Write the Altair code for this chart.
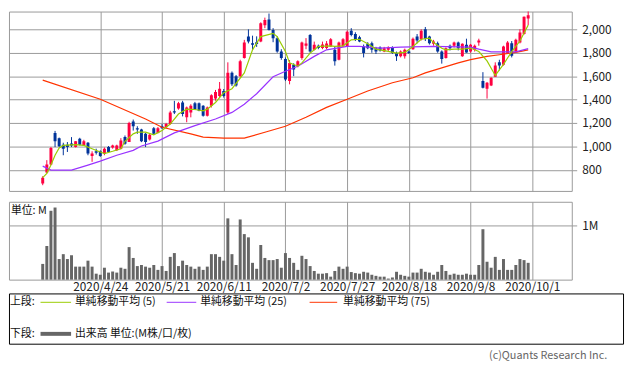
import altair as alt
import pandas as pd

# ---------------- data ----------------
date_labels = ["2020/4/24", "2020/5/21", "2020/6/11", "2020/7/2",
               "2020/7/27", "2020/8/18", "2020/9/8", "2020/10/1"]
date_pos = [14, 29, 44, 59, 74, 89, 104, 119]   # trading-day index of each label
price_ticks = [800, 1000, 1200, 1400, 1600, 1800, 2000]

opens = [682, 777, 845, 1115, 1070, 1014, 1014, 1025, 994, 1065,
         1008, 1031, 918, 958, 958, 938, 994, 990, 966, 980,
         1079, 1037, 1212, 1155, 1144, 1107, 1059, 1155, 1115, 1172,
         1163, 1191, 1300, 1324, 1375, 1248, 1290, 1369, 1369, 1346,
         1262, 1346, 1408, 1431, 1473, 1290, 1628, 1600, 1600, 1755,
         1938, 1882, 1890, 1896, 2036, 2084, 1994, 1924, 1811, 1746,
         1558, 1698, 1685, 1755, 1860, 1952, 1825, 1859, 1840, 1840,
         1854, 1825, 1741, 1854, 1854, 1989, 1961, 1932, 1854, 1876,
         1882, 1839, 1845, 1811, 1825, 1848, 1797, 1769, 1769, 1811,
         1830, 1938, 1915, 2000, 1938, 1876, 1882, 1811, 1755, 1859,
         1859, 1887, 1769, 1868, 1811, 1825, 1887, 1558, 1493, 1521,
         1594, 1718, 1698, 1797, 1882, 1811, 1887, 1961, 2093]
highs = [745, 882, 995, 1132, 1075, 1031, 1037, 1079, 1045, 1073,
         1056, 1037, 958, 980, 966, 990, 1003, 1014, 1014, 1070,
         1093, 1210, 1229, 1172, 1150, 1115, 1105, 1165, 1165, 1190,
         1200, 1304, 1389, 1380, 1389, 1340, 1360, 1380, 1375, 1352,
         1340, 1445, 1482, 1550, 1490, 1718, 1640, 1610, 1740, 1910,
         2000, 1946, 1940, 2060, 2100, 2135, 2010, 1940, 1830, 1760,
         1738, 1710, 1735, 1895, 1925, 1960, 1895, 1870, 1895, 1900,
         1925, 1854, 1895, 1925, 1990, 2010, 1975, 1945, 1870, 1890,
         1895, 1850, 1855, 1850, 1855, 1855, 1810, 1820, 1835, 1820,
         1930, 1960, 2000, 2020, 1945, 1910, 1895, 1820, 1845, 1870,
         1895, 1895, 1880, 1920, 1875, 1870, 1920, 1634, 1550, 1590,
         1718, 1740, 1860, 1900, 1900, 1920, 2000, 2110, 2169]
lows = [668, 769, 840, 994, 995, 924, 952, 994, 990, 1008,
        1003, 924, 868, 930, 910, 924, 946, 980, 960, 975,
        1014, 1037, 1135, 1107, 1036, 994, 1050, 1100, 1110, 1150,
        1155, 1186, 1276, 1313, 1256, 1206, 1248, 1310, 1300, 1254,
        1255, 1332, 1390, 1417, 1417, 1276, 1516, 1510, 1590, 1750,
        1880, 1825, 1850, 1890, 2010, 1990, 1890, 1800, 1740, 1558,
        1530, 1600, 1675, 1740, 1830, 1800, 1820, 1830, 1830, 1830,
        1850, 1690, 1735, 1850, 1850, 1940, 1900, 1890, 1760, 1830,
        1800, 1790, 1810, 1805, 1815, 1790, 1730, 1760, 1750, 1790,
        1825, 1880, 1905, 1900, 1870, 1860, 1800, 1707, 1750, 1820,
        1845, 1820, 1765, 1800, 1800, 1810, 1860, 1495, 1408, 1515,
        1594, 1650, 1690, 1790, 1760, 1805, 1880, 1955, 2036]
closes = [732, 845, 986, 1043, 1000, 980, 994, 1008, 1043, 1014,
          1043, 938, 938, 946, 918, 980, 952, 1008, 1008, 1051,
          1022, 1200, 1172, 1144, 1043, 1037, 1099, 1107, 1155, 1155,
          1191, 1290, 1290, 1369, 1276, 1332, 1346, 1318, 1304, 1262,
          1332, 1437, 1465, 1493, 1431, 1628, 1530, 1521, 1727, 1887,
          1896, 1868, 1875, 2051, 2080, 1994, 1924, 1811, 1755, 1572,
          1713, 1656, 1727, 1887, 1880, 1811, 1868, 1840, 1870, 1880,
          1915, 1727, 1887, 1915, 1980, 1952, 1910, 1896, 1797, 1839,
          1825, 1811, 1820, 1839, 1845, 1797, 1769, 1811, 1825, 1797,
          1920, 1904, 1989, 1920, 1882, 1896, 1811, 1746, 1839, 1839,
          1887, 1839, 1876, 1803, 1868, 1859, 1904, 1501, 1544, 1586,
          1690, 1690, 1854, 1887, 1775, 1910, 1972, 2107, 2121]
volume_m = [0.29, 0.62, 1.27, 1.33, 0.38, 0.47, 0.38, 0.45, 0.24, 0.24,
            0.24, 0.35, 0.24, 0.11, 0.09, 0.22, 0.13, 0.15, 0.13, 0.22,
            0.20, 0.60, 0.40, 0.25, 0.27, 0.24, 0.22, 0.27, 0.18, 0.25,
            0.16, 0.42, 0.49, 0.25, 0.35, 0.27, 0.24, 0.20, 0.24, 0.18,
            0.24, 0.47, 0.47, 0.42, 0.35, 1.13, 0.47, 0.27, 1.11, 0.84,
            0.78, 0.31, 0.20, 0.64, 0.40, 0.36, 0.36, 0.38, 0.22, 0.49,
            0.40, 0.31, 0.18, 0.44, 0.38, 0.25, 0.16, 0.11, 0.11, 0.12,
            0.055, 0.16, 0.24, 0.20, 0.24, 0.14, 0.12, 0.11, 0.145, 0.13,
            0.09, 0.07, 0.055, 0.055, 0.02, 0.04, 0.145, 0.09, 0.07, 0.055,
            0.13, 0.13, 0.20, 0.145, 0.13, 0.09, 0.145, 0.27, 0.16, 0.09,
            0.11, 0.09, 0.09, 0.11, 0.09, 0.09, 0.27, 0.93, 0.33, 0.22,
            0.42, 0.18, 0.38, 0.18, 0.18, 0.27, 0.38, 0.36, 0.31]

ma5_i = [0, 1, 2, 3, 4, 5, 8, 10, 12, 14, 15, 17, 19, 20, 22, 23, 25, 27, 29, 31,
         33, 35, 37, 39, 40, 42, 44, 46, 49, 51, 53, 56, 57, 59, 60, 62, 63, 65, 67, 70,
         71, 73, 75, 77, 79, 81, 84, 86, 88, 90, 92, 94, 95, 97, 98, 100, 102, 104, 106, 108,
         110, 112, 114, 116, 118]
ma5_v = [732, 769, 840, 924, 986, 1008, 1014, 1008, 980, 952, 938, 958, 980, 1043, 1107, 1121, 1121, 1098, 1135, 1191,
         1276, 1318, 1315, 1304, 1318, 1375, 1459, 1493, 1628, 1825, 1938, 1966, 1938, 1811, 1713, 1685, 1713, 1797, 1854, 1859,
         1854, 1859, 1910, 1915, 1876, 1831, 1811, 1797, 1803, 1854, 1915, 1924, 1887, 1839, 1825, 1831, 1831, 1840, 1810, 1730,
         1606, 1700, 1810, 1900, 2036]
ma25_i = [0, 2, 7, 11, 14, 18, 22, 24, 28, 32, 37, 42, 46, 49, 52, 56, 59, 62, 66, 69,
          74, 77, 82, 87, 95, 104, 106, 109, 115, 118]
ma25_v = [831, 797, 797, 840, 874, 924, 966, 1003, 1045, 1115, 1177, 1234, 1290, 1360, 1450, 1595, 1642, 1685, 1769, 1825,
          1854, 1854, 1839, 1848, 1854, 1848, 1831, 1808, 1808, 1835]
ma75_i = [0, 14, 25, 29, 36, 39, 44, 49, 54, 59, 64, 69, 74, 79, 85, 90, 93, 101, 104, 108,
          111, 115, 118]
ma75_v = [1566, 1403, 1234, 1163, 1107, 1079, 1070, 1070, 1121, 1172, 1248, 1333, 1403, 1473, 1544, 1586, 1628, 1713, 1741, 1769,
          1783, 1803, 1825]

# ---------------- styling ----------------
RED = "#FF0040"
BLUE = "#003399"
C_MA5 = "#99CC00"
C_MA25 = "#9933FF"
C_MA75 = "#FF3300"
GRID = "#999999"
FONT = "Noto Sans CJK JP"

df = pd.DataFrame({"i": list(range(len(opens))), "o": opens, "h": highs,
                   "l": lows, "c": closes, "v": volume_m})
df["col"] = [RED if c >= o else BLUE for o, c in zip(opens, closes)]

xs = alt.Scale(domain=[-7.0, 127.4], nice=False, zero=False)
ys = alt.Scale(domain=[619, 2152], nice=False, zero=False)

label_expr = "[" + ",".join("'%s'" % d for d in date_labels) + "][round((datum.value-14)/15)]"

top_x = alt.X("i:Q", scale=xs, title=None,
              axis=alt.Axis(values=date_pos, labels=False, ticks=False, domain=False, grid=True))
top_axis = alt.Axis(orient="right", values=price_ticks, labelExpr="format(datum.value, ',')",
                    grid=True, tickSize=5, domain=False, labelPadding=5)

base = alt.Chart(df)
wick = base.mark_rule(strokeWidth=1, clip=True).encode(
    x=top_x, y=alt.Y("l:Q", scale=ys, axis=top_axis, title=None), y2="h:Q",
    color=alt.Color("col:N", scale=None))
body = base.mark_bar(size=3, clip=True).encode(
    x=top_x, y=alt.Y("o:Q", scale=ys, axis=top_axis, title=None), y2="c:Q",
    color=alt.Color("col:N", scale=None))


def ma_line(idx, vals, color):
    return alt.Chart(pd.DataFrame({"i": idx, "v": vals})).mark_line(
        color=color, strokeWidth=1.2, clip=True).encode(
        x=top_x, y=alt.Y("v:Q", scale=ys, axis=top_axis, title=None))


top = alt.layer(wick, body,
                ma_line(ma75_i, ma75_v, C_MA75),
                ma_line(ma25_i, ma25_v, C_MA25),
                ma_line(ma5_i, ma5_v, C_MA5)).properties(width=571, height=182)

bx = alt.X("i:Q", scale=xs, title=None,
           axis=alt.Axis(values=date_pos, labelExpr=label_expr, grid=True, ticks=False,
                         domain=False, labelPadding=2, labelOverlap=False))
by = alt.Y("v:Q", scale=alt.Scale(domain=[0, 1.436], nice=False, zero=True), title=None,
           axis=alt.Axis(orient="right", values=[1], labelExpr="'1M'", grid=True,
                         tickSize=5, domain=False, labelPadding=5))
vol = base.mark_bar(size=3, color="#666666").encode(x=bx, y=by)

one = pd.DataFrame({"k": [0]})


def txt(s, x, y, size=11, color="#111111", align="left"):
    return alt.Chart(one).mark_text(text=s, font=FONT, fontSize=size, color=color,
                                    align=align, baseline="middle").encode(
        x=alt.value(x), y=alt.value(y))


def seg(x1, x2, y, color, w):
    return alt.Chart(one).mark_rule(color=color, strokeWidth=w).encode(
        x=alt.value(x1), x2=alt.value(x2), y=alt.value(y))


box = alt.Chart(one).mark_rect(fillOpacity=0, stroke="#000000", strokeWidth=1).encode(
    x=alt.value(0.5), x2=alt.value(623.5), y=alt.value(93.5), y2=alt.value(144.5))

bottom = alt.layer(
    vol,
    txt("単位: M", 2, 9),
    box,
    txt("上段:", 1, 102),
    seg(32, 63, 102, C_MA5, 1), txt("単純移動平均 (5)", 67, 102),
    seg(160, 190, 102, C_MA25, 1), txt("単純移動平均 (25)", 194, 102),
    seg(305, 333, 102, C_MA75, 1), txt("単純移動平均 (75)", 339, 102),
    txt("下段:", 1, 134),
    seg(32, 63, 134, "#666666", 4), txt("出来高 単位:(M株/口/枚)", 67, 134),
    txt("(c)Quants Research Inc.", 607, 157, color="#666666", align="right"),
).properties(width=571, height=79)

chart = alt.vconcat(top, bottom, spacing=11, bounds="flush").properties(
    padding=0
).configure_view(stroke=GRID, strokeWidth=1).configure_axis(
    gridColor=GRID, gridOpacity=1, gridWidth=1, tickColor=GRID,
    labelFont=FONT, labelFontSize=12, labelColor="#222222")

chart.save("out.html", embed_options={"renderer": "svg", "actions": False})
